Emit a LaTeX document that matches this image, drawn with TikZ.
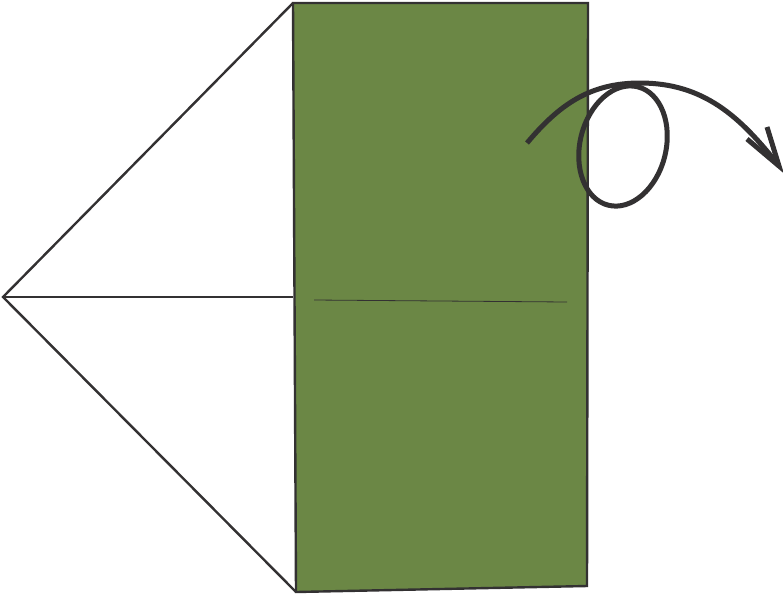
\documentclass[tikz,border=0pt]{standalone}
\usepackage{tikz}

\definecolor{leafgreen}{RGB}{107,135,69}
\definecolor{inkgrey}{RGB}{51,49,50}

\tikzset{
    foldline/.style={inkgrey,line width=2.4pt,line join=miter},
    creaseline/.style={inkgrey,line width=0.8pt},
    turnarrow/.style={inkgrey,line width=5pt,line cap=butt}
}

\begin{document}
\begin{tikzpicture}[x=1pt,y=-1pt]
            \useasboundingbox (0,0) rectangle (783,595);
            \coordinate (tip) at (3,297);
            \coordinate (topleft) at (293,3);
            \coordinate (topright) at (588,3);
            \coordinate (botright) at (587,586);
            \coordinate (botleft) at (296,592);
            \coordinate (midleft) at (293,297);
            % white flaps on the left
            \draw[foldline] (topleft) -- (tip) -- (botleft);
            \draw[foldline] (tip) -- (midleft);
            % green square
            \draw[foldline,fill=leafgreen] (topleft) -- (topright)
                -- (botright) -- (botleft) -- cycle;
            \draw[creaseline] (314,300) -- (567,302);
            % turn over arrow
            \begin{scope}
                \draw[turnarrow] (527,143)
                    to [out=50,in=180] (640,83)
                    to [out=0,in=128] (779,166)
                ;
                \draw[turnarrow,line join=miter] (767,127) -- (779,166) -- (747,139);
                \draw[turnarrow,rotate around={-14:(623,146)}]
                    (623,146) ellipse [x radius=43, y radius=61];
            \end{scope}
        \end{tikzpicture}
\end{document}
